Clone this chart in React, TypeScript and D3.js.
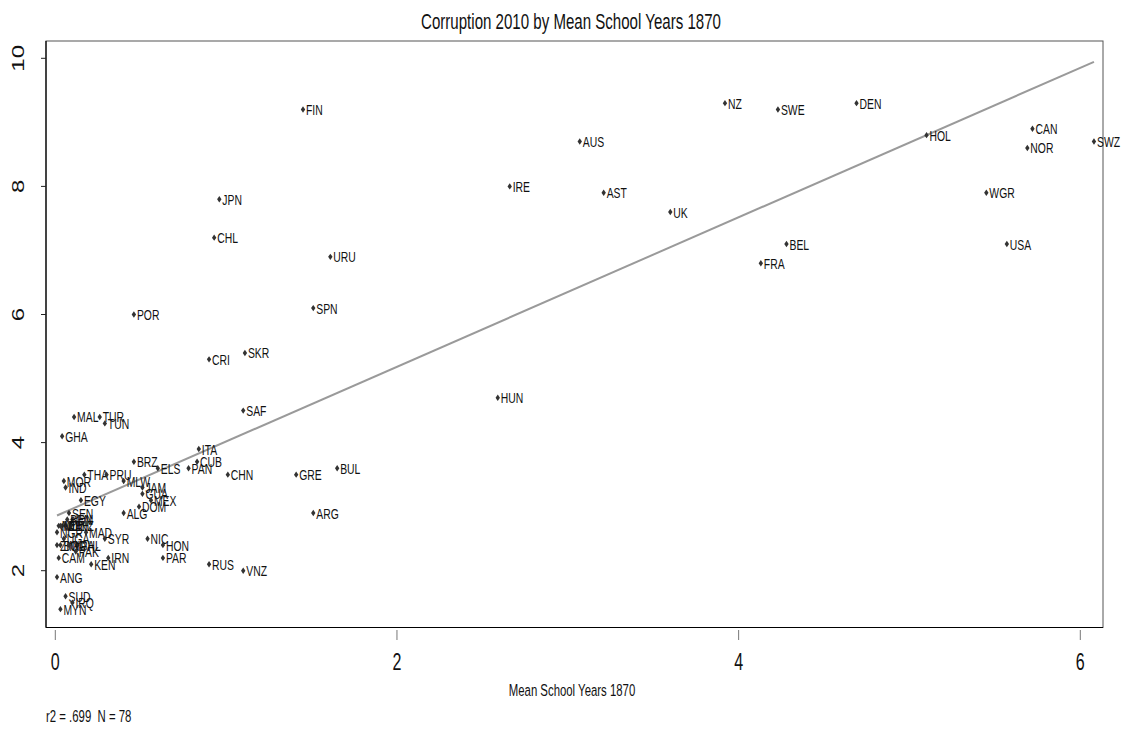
import React from "react";
import * as d3 from "d3";

const countries = ["NZ","SWE","DEN","FIN","AUS","IRE","AST","UK","HOL","CAN","NOR","SWZ","WGR","USA","BEL","FRA","JPN","CHL","URU","SPN","POR","CRI","SKR","SAF","HUN",
"MAL","TUR","TUN","GHA","BRZ","ELS","ITA","CUB","PAN","CHN","GRE","BUL","ARG",
"MOR","IND","THA","PRU","MLW","JAM","GUA","MEX","DOM","ALG","EGY","SEN",
"MAD","NGR","SYR","NIC","HON","PAR","RUS","VNZ","CAM","KEN","IRN","ANG","SUD","IRQ","MYN","PHL",
"IDN","BEN","VIE","MOZ","ETH","TNZ","MLI","UGA","BGD","ZIM","NGA","PAK"];

const schoolYears = [3.92,4.23,4.69,1.45,3.07,2.66,3.21,3.60,5.10,5.72,5.69,6.08,5.45,5.57,4.28,4.13,0.96,0.93,1.61,1.51,0.46,0.90,1.11,1.10,2.59,
0.11,0.26,0.29,0.04,0.46,0.60,0.84,0.83,0.78,1.01,1.41,1.65,1.51,
0.05,0.06,0.17,0.30,0.40,0.51,0.51,0.56,0.49,0.40,0.15,0.08,
0.18,0.01,0.29,0.54,0.63,0.63,0.90,1.10,0.02,0.21,0.31,0.01,0.06,0.10,0.03,0.13,
0.10,0.07,0.04,0.02,0.06,0.09,0.03,0.05,0.03,0.01,0.08,0.12];

const corruption = [9.3,9.2,9.3,9.2,8.7,8.0,7.9,7.6,8.8,8.9,8.6,8.7,7.9,7.1,7.1,6.8,7.8,7.2,6.9,6.1,6.0,5.3,5.4,4.5,4.7,
4.4,4.4,4.3,4.1,3.7,3.6,3.9,3.7,3.6,3.5,3.5,3.6,2.9,
3.4,3.3,3.5,3.5,3.4,3.3,3.2,3.1,3.0,2.9,3.1,2.9,
2.6,2.6,2.5,2.5,2.4,2.2,2.1,2.0,2.2,2.1,2.2,1.9,1.6,1.5,1.4,2.4,
2.8,2.8,2.7,2.7,2.7,2.7,2.7,2.5,2.4,2.4,2.4,2.3];

const xTicks = [0, 2, 4, 6];
const yTicks = [2, 4, 6, 8, 10];
const fitIntercept = 2.85;
const fitSlope = 1.167;
const noteText = "r2 = .699  N = 78";

const SX = 0.67;
const FONT = "'Liberation Sans', Arial, sans-serif";

function T({ x, y, size, anchor = "start", rotate = 0, fill = "#111", children }: any) {
  const tr = `translate(${x},${y}) scale(${SX},1)` + (rotate ? ` rotate(${rotate})` : "");
  return (
    <text transform={tr} fontSize={size} fontFamily={FONT} textAnchor={anchor} fill={fill} style={{ whiteSpace: "pre" }}>
      {children}
    </text>
  );
}

export default function App() {
  const W = 1124, H = 731;
  const plot = { left: 46, right: 1103, top: 41, bottom: 627.5 };
  const x = d3.scaleLinear().domain([0, 6]).range([55.3, 1080.3]);
  const y = d3.scaleLinear().domain([2, 10]).range([570.7, 58.3]);
  const xMin = d3.min(schoolYears) as number;
  const xMax = d3.max(schoolYears) as number;
  const fitLine = d3.line<number>().x(v => x(v)).y(v => y(fitIntercept + fitSlope * v));
  const diamond = (cx: number, cy: number) =>
    `M${cx},${cy - 3.2}L${cx + 2.2},${cy}L${cx},${cy + 3.2}L${cx - 2.2},${cy}Z`;

  return (
    <svg width={W} height={H} style={{ position: "absolute", left: 0, top: 0, background: "#fff" }}>
      <rect x={0} y={0} width={W} height={H} fill="#fff" />
      <T x={571} y={29} size={22.5} anchor="middle">Corruption 2010 by Mean School Years 1870</T>
      <rect x={plot.left} y={plot.top} width={plot.right - plot.left} height={plot.bottom - plot.top} fill="none" stroke="#555" strokeWidth={1} />
      <line x1={plot.left} x2={plot.left} y1={plot.top} y2={plot.bottom} stroke="#000" strokeWidth={1.2} />
      <line x1={plot.left} x2={plot.right} y1={plot.bottom} y2={plot.bottom} stroke="#000" strokeWidth={1.2} />
      {xTicks.map(t => (
        <g key={"xt" + t}>
          <line x1={x(t)} x2={x(t)} y1={630} y2={640} stroke="#777" strokeWidth={1} />
          <T x={x(t)} y={670} size={24} anchor="middle">{t}</T>
        </g>
      ))}
      {yTicks.map(t => (
        <g key={"yt" + t}>
          <line x1={41} x2={plot.left} y1={y(t)} y2={y(t)} stroke="#222" strokeWidth={1} />
          <T x={24} y={y(t)} size={24} anchor="middle" rotate={-90}>{t}</T>
        </g>
      ))}
      <path d={fitLine([xMin, xMax]) || ""} stroke="#9a9a9a" strokeWidth={2} fill="none" />
      {countries.map((c, i) => {
        const cx = x(schoolYears[i]);
        const cy = y(corruption[i]);
        return (
          <g key={c}>
            <path d={diamond(cx, cy)} fill="#333" />
            <T x={cx + 3} y={cy + 5.5} size={15.5}>{c}</T>
          </g>
        );
      })}
      <T x={572} y={696} size={17} anchor="middle">Mean School Years 1870</T>
      <T x={46} y={722} size={17}>{noteText}</T>
    </svg>
  );
}
